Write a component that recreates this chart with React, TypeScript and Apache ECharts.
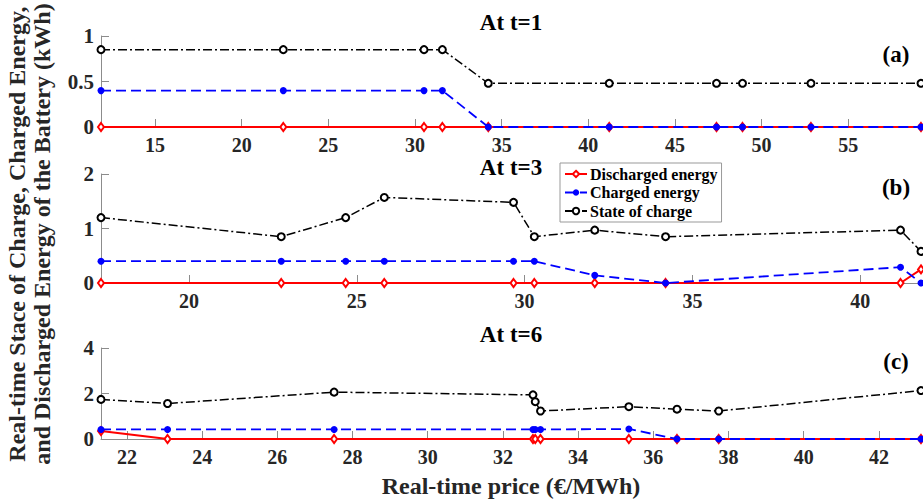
import React, { useEffect, useRef } from "react";
import * as echarts from "echarts";

// Panel (a): t = 1
const priceA = [11.88, 22.4, 30.52, 31.58, 34.23, 41.21, 47.4, 48.9, 52.85, 59.2];
const dischargeA = [0, 0, 0, 0, 0, 0, 0, 0, 0, 0];
const chargeA = [0.4, 0.4, 0.4, 0.4, 0, 0, 0, 0, 0, 0];
const socA = [0.85, 0.85, 0.85, 0.85, 0.48, 0.48, 0.48, 0.48, 0.48, 0.48];
const ticksA = [15, 20, 25, 30, 35, 40, 45, 50, 55];

// Panel (b): t = 3
const priceB = [17.38, 22.75, 24.67, 25.82, 29.67, 30.29, 32.09, 34.2, 41.2, 41.81];
const dischargeB = [0, 0, 0, 0, 0, 0, 0, 0, 0, 0.25];
const chargeB = [0.4, 0.4, 0.4, 0.4, 0.4, 0.4, 0.14, 0, 0.29, 0];
const socB = [1.2, 0.85, 1.2, 1.57, 1.48, 0.85, 0.97, 0.85, 0.97, 0.58];
const ticksB = [20, 25, 30, 35, 40];

// Panel (c): t = 6
const priceC = [21.31, 23.08, 27.51, 32.8, 32.86, 33.0, 35.35, 36.63, 37.74, 43.12];
const dischargeC = [0.35, 0, 0, 0, 0, 0, 0, 0, 0, 0];
const chargeC = [0.42, 0.42, 0.42, 0.42, 0.42, 0.42, 0.44, 0, 0, 0];
const socC = [1.74, 1.56, 2.06, 1.94, 1.64, 1.23, 1.42, 1.31, 1.23, 2.13];
const ticksC = [22, 24, 26, 28, 30, 32, 34, 36, 38, 40, 42];

const titles = ["At t=1", "At t=3", "At t=6"];
const panelLabels = ["(a)", "(b)", "(c)"];
const yMax = [1, 2, 4];
const yInterval = [0.5, 1, 2];
const seriesNames = ["Discharged energy", "Charged energy", "State of charge"];
const xName = "Real-time price (€/MWh)";
const yName = "Real-time Stace of Charge, Charged Energy,\nand Discharged Energy of the Battery (kWh)";

const FONT = "'Liberation Serif', 'Times New Roman', serif";
const AXIS_COLOR = "#8c8c8c";
const LABEL_COLOR = "#262626";

const panels = [
  { price: priceA, dis: dischargeA, ch: chargeA, soc: socA, ticks: ticksA },
  { price: priceB, dis: dischargeB, ch: chargeB, soc: socB, ticks: ticksB },
  { price: priceC, dis: dischargeC, ch: chargeC, soc: socC, ticks: ticksC },
];

const gridLayout = [
  { top: 36, height: 91 },
  { top: 174, height: 109 },
  { top: 348, height: 91 },
];
const titleY = [22, 167, 334];
const labelY = [54, 187, 361];

export default function App() {
  const ref = useRef<HTMLDivElement>(null);

  useEffect(() => {
    if (!ref.current) return;
    const chart = echarts.init(ref.current, undefined, { renderer: "svg" });

    const grids = gridLayout.map((g) => ({ left: 101, width: 820, top: g.top, height: g.height }));

    const xAxes = panels.map((p, i) => ({
      type: "value",
      gridIndex: i,
      min: Math.min(...p.price),
      max: Math.max(...p.price),
      axisLine: { show: true, lineStyle: { color: AXIS_COLOR, width: 1 } },
      axisTick: { show: true, inside: true, length: 8, customValues: p.ticks, lineStyle: { color: AXIS_COLOR } },
      axisLabel: {
        customValues: p.ticks,
        fontFamily: FONT,
        fontWeight: "bold",
        fontSize: 20,
        color: LABEL_COLOR,
        margin: 8,
      },
      splitLine: { show: false },
    }));

    const yAxes = panels.map((p, i) => ({
      type: "value",
      gridIndex: i,
      min: 0,
      max: yMax[i],
      interval: yInterval[i],
      axisLine: { show: true, lineStyle: { color: AXIS_COLOR, width: 1 } },
      axisTick: { show: true, inside: true, length: 8, lineStyle: { color: AXIS_COLOR } },
      axisLabel: {
        fontFamily: FONT,
        fontWeight: "bold",
        fontSize: 21,
        color: LABEL_COLOR,
        margin: 7,
      },
      splitLine: { show: false },
    }));

    const series: any[] = [];
    panels.forEach((p, i) => {
      const mk = (arr: number[]) => p.price.map((x, k) => [x, arr[k]]);
      series.push({
        name: seriesNames[0],
        type: "line",
        xAxisIndex: i,
        yAxisIndex: i,
        data: mk(p.dis),
        clip: false,
        z: 3,
        symbol: "emptyDiamond",
        symbolSize: [6, 8],
        lineStyle: { color: "#ff0000", width: 2, type: "solid" },
        itemStyle: { color: "#ff0000", borderWidth: 1.5 },
      });
      series.push({
        name: seriesNames[1],
        type: "line",
        xAxisIndex: i,
        yAxisIndex: i,
        data: mk(p.ch),
        clip: false,
        z: 4,
        symbol: "circle",
        symbolSize: 7,
        lineStyle: { color: "#0000ff", width: 1.8, type: [10, 5] },
        itemStyle: { color: "#0000ff" },
      });
      series.push({
        name: seriesNames[2],
        type: "line",
        xAxisIndex: i,
        yAxisIndex: i,
        data: mk(p.soc),
        clip: false,
        z: 5,
        symbol: "emptyCircle",
        symbolSize: 7,
        lineStyle: { color: "#000000", width: 1.5, type: [9, 3, 2, 3] },
        itemStyle: { color: "#000000", borderWidth: 1.3 },
      });
    });

    const textStyle = (txt: string, size: number) => ({
      text: txt,
      fontFamily: FONT,
      fontWeight: "bold",
      fontSize: size,
      fill: "#000",
      align: "center",
      verticalAlign: "middle",
    });

    const graphics: any[] = [];
    titles.forEach((t, i) => {
      graphics.push({ type: "text", x: 511, y: titleY[i], style: textStyle(t, 23), z: 10 });
      graphics.push({ type: "text", x: 896, y: labelY[i], style: textStyle(panelLabels[i], 23), z: 10 });
    });
    graphics.push({ type: "text", x: 511, y: 486, style: { ...textStyle(xName, 24), fill: LABEL_COLOR }, z: 10 });
    graphics.push({
      type: "text",
      x: 29,
      y: 234,
      rotation: Math.PI / 2,
      style: { ...textStyle(yName, 24), lineHeight: 25, fill: LABEL_COLOR },
      z: 10,
    });

    chart.setOption({
      animation: false,
      backgroundColor: "#ffffff",
      grid: grids,
      xAxis: xAxes,
      yAxis: yAxes,
      legend: {
        data: seriesNames,
        orient: "vertical",
        left: 560,
        top: 163,
        padding: [3, 4],
        itemGap: 2.5,
        itemWidth: 22,
        itemHeight: 8,
        backgroundColor: "#ffffff",
        borderColor: "#999999",
        borderWidth: 1,
        borderRadius: 0,
        textStyle: {
          fontFamily: FONT,
          fontWeight: "bold",
          fontSize: 16,
          lineHeight: 16,
          color: "#000",
          padding: [0, 0, 0, -2],
        },
      },
      series,
      graphic: graphics,
    });

    return () => chart.dispose();
  }, []);

  return (
    <div
      ref={ref}
      style={{ position: "absolute", left: 0, top: 0, width: 923, height: 502 }}
    />
  );
}
